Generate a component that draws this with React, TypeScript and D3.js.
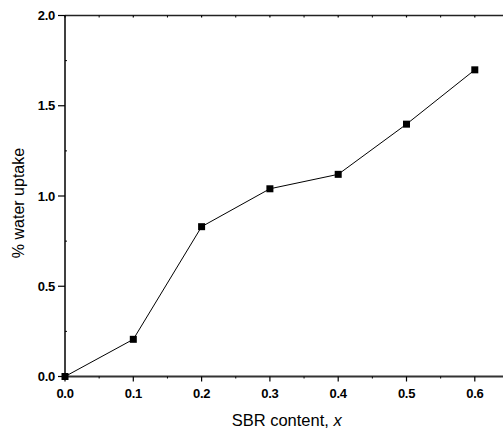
import React from "react";
import * as d3 from "d3";

const xValues = [0.0, 0.1, 0.2, 0.3, 0.4, 0.5, 0.6];
const yValues = [0.0, 0.206, 0.83, 1.04, 1.12, 1.398, 1.699];
const xTicks = [0.0, 0.1, 0.2, 0.3, 0.4, 0.5, 0.6];
const yTicks = [0.0, 0.5, 1.0, 1.5, 2.0];

const W = 503;
const H = 432;

export default function App() {
  const x = d3.scaleLinear().domain([0, 0.1]).range([65, 133.3]);
  const y = d3.scaleLinear().domain([0, 2]).range([376.5, 15.5]);
  const xRight = x(0.7);
  const line = d3
    .line<number>()
    .x((_, i) => x(xValues[i]))
    .y((d) => y(d));
  const xMinor = d3.range(0.05, 0.7, 0.1);
  const yMinor = [0.25, 0.75, 1.25, 1.75];
  const font = "'Liberation Sans', Arial, sans-serif";
  return (
    <svg
      width={W}
      height={H}
      style={{ position: "absolute", left: 0, top: 0, background: "#fff" }}
    >
      {/* frame */}
      <line x1={x(0)} x2={xRight} y1={y(0)} y2={y(0)} stroke="#333" strokeWidth={2} />
      <line x1={x(0)} x2={xRight} y1={y(2)} y2={y(2)} stroke="#222" strokeWidth={1.5} />
      <line x1={x(0)} x2={x(0)} y1={y(0)} y2={y(2)} stroke="#000" strokeWidth={1.5} />
      {/* x ticks */}
      {xTicks.map((t) => (
        <g key={"xt" + t}>
          <line x1={x(t)} x2={x(t)} y1={y(0)} y2={y(0) + 5} stroke="#000" strokeWidth={1.2} />
          <line x1={x(t)} x2={x(t)} y1={y(2)} y2={y(2) + 2} stroke="#000" strokeWidth={1.2} />
          <text
            x={x(t)}
            y={397.5}
            textAnchor="middle"
            fontFamily={font}
            fontWeight="bold"
            fontSize={13}
            letterSpacing={-0.3}
          >
            {t.toFixed(1)}
          </text>
        </g>
      ))}
      {xMinor.map((t) => (
        <g key={"xm" + t}>
          <line x1={x(t)} x2={x(t)} y1={y(0)} y2={y(0) + 2} stroke="#000" strokeWidth={1} />
          <line x1={x(t)} x2={x(t)} y1={y(2)} y2={y(2) + 2} stroke="#000" strokeWidth={1} />
        </g>
      ))}
      {/* y ticks */}
      {yTicks.map((t) => (
        <g key={"yt" + t}>
          <line x1={x(0) - 7} x2={x(0)} y1={y(t)} y2={y(t)} stroke="#000" strokeWidth={1.2} />
          <text
            x={55}
            y={y(t) + 4.5}
            textAnchor="end"
            fontFamily={font}
            fontWeight="bold"
            fontSize={13}
            letterSpacing={-0.3}
          >
            {t.toFixed(1)}
          </text>
        </g>
      ))}
      {yMinor.map((t) => (
        <line key={"ym" + t} x1={x(0)} x2={x(0) + 2} y1={y(t)} y2={y(t)} stroke="#000" strokeWidth={1} />
      ))}
      {/* data line */}
      <path d={line(yValues) || ""} fill="none" stroke="#000" strokeWidth={1} />
      {yValues.map((v, i) => (
        <rect
          key={"p" + i}
          x={x(xValues[i]) - 3.5}
          y={y(v) - 3.5}
          width={7}
          height={7}
          fill="#000"
        />
      ))}
      {/* axis titles */}
      <text x={286.7} y={425.5} textAnchor="middle" fontFamily={font} fontSize={16.5}>
        SBR content, <tspan fontStyle="italic">x</tspan>
      </text>
      <text
        transform={`translate(24, 203) rotate(-90)`}
        textAnchor="middle"
        fontFamily={font}
        fontSize={16}
      >
        % water uptake
      </text>
    </svg>
  );
}
